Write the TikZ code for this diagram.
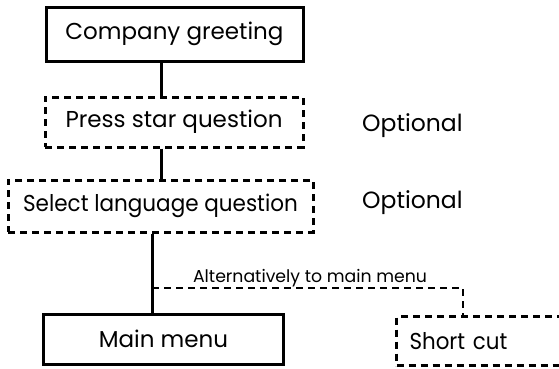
\documentclass[tikz,border=0pt]{standalone}
\usepackage{fontspec}
\setmainfont{Poppins}
\newfontfamily\narrowfont[FakeStretch=0.935]{Poppins}
\newfontfamily\shortfont[FakeStretch=0.93]{Poppins}
\begin{document}
\begin{tikzpicture}[x=1pt,y=-1pt,
  solidbox/.style={draw, line width=3pt, rectangle, inner sep=0pt, font=\fontsize{23}{26}\selectfont},
  dashbox/.style={draw, line width=3pt, rectangle, inner sep=0pt, dash pattern=on 7pt off 5pt, font=\fontsize{23}{26}\selectfont},
  link/.style={line width=3pt},
  dlink/.style={line width=1.6pt, dash pattern=on 7pt off 5pt},
  lbl/.style={font=\fontsize{23.5}{26}\selectfont, inner sep=0pt},
  small/.style={font=\fontsize{17.3}{19}\selectfont, inner sep=0pt}]
\useasboundingbox (0,0) rectangle (559,368);
\node[solidbox, minimum width=257pt, minimum height=54pt] (cg) at (174.5,34) {Company greeting};
\node[dashbox, minimum width=258pt, minimum height=50pt] (ps) at (174,122) {Press star question};
\node[dashbox, minimum width=305pt, minimum height=52pt] (sl) at (160.5,206) {\narrowfont Select language question};
\node[solidbox, minimum width=240pt, minimum height=50pt] (mm) at (163.5,339) {Main menu};
\node[dashbox, anchor=north west, minimum height=49pt, text width=165pt, inner xsep=13pt, align=left] (sc) at (395,315) {\shortfont Short cut};
\node[lbl, anchor=west] (o1) at (362,126) {Optional};
\node[lbl, anchor=west] (o2) at (362,203) {Optional};
\coordinate (a1) at (161,0);
\coordinate (a2) at (152,0);
\coordinate (br) at (152,288);
\coordinate (turn) at (463,288);
\draw[link] (cg.south -| a1) -- (ps.north -| a1);
\draw[link] (ps.south -| a1) -- (sl.north -| a1);
\draw[link] (sl.south -| a2) -- (mm.north -| a2);
\draw[dlink] (br) -- (turn) -- (sc.north -| turn);
\node[small, anchor=base] (alt) at (310,282) {Alternatively to main menu};
\end{tikzpicture}
\end{document}
